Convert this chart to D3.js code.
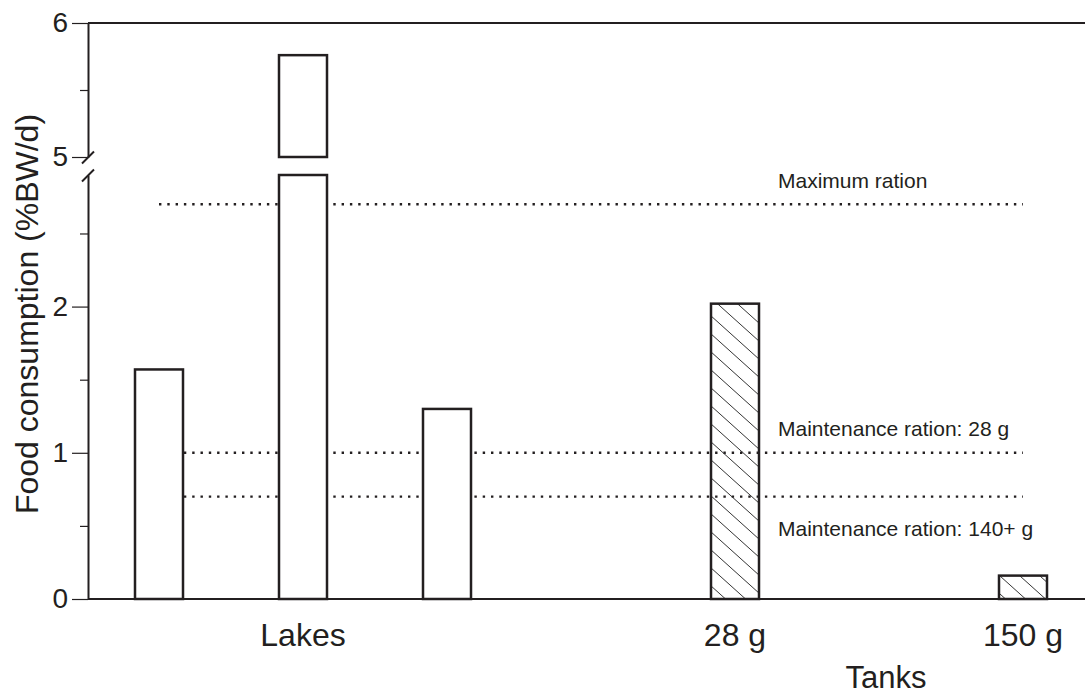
<!DOCTYPE html>
<html>
<head>
<meta charset="utf-8">
<script src="https://cdn.jsdelivr.net/npm/d3@7"></script>
<style>
  body { margin: 0; background: #fff; }
  svg { display: block; }
  text { font-family: "Liberation Sans", Arial, Helvetica, sans-serif; fill: #231f20; }
</style>
</head>
<body>
<div id="chart"></div>
<script>
// slots along the x axis (gaps keep the spacing of the original figure)
const slots = ["lake1", "lake2", "lake3", "gapA", "tank28", "gapB", "tank150"];

// bars
const barKeys = ["lake1", "lake2", "lake3", "tank28", "tank150"];
const barValues = [1.57, 5.76, 1.30, 2.02, 0.16];
const barHatched = [false, false, false, true, true];

// group labels under the axis
const groupLabels = ["Lakes", "28 g", "150 g"];
const groupLabelAt = ["lake2", "tank28", "tank150"];

// reference rations (dotted lines)
const refValues = [2.7, 1.0, 0.7];
const refLabels = ["Maximum ration", "Maintenance ration: 28 g", "Maintenance ration: 140+ g"];

// broken y axis
const lowDomain = [0, 2.9];
const highDomain = [5, 6];
const lowMajor = [0, 1, 2];
const lowMinor = [0.5, 1.5, 2.5];
const highMajor = [5, 6];
const highMinor = [5.5];

const width = 1085, height = 696;
const ink = "#231f20";

const svg = d3.select("#chart").append("svg")
    .attr("width", width)
    .attr("height", height);

const x = d3.scaleBand()
    .domain(slots)
    .range([87, 1095])
    .paddingInner(2 / 3)
    .paddingOuter(1 / 3);

const yLow = d3.scaleLinear().domain(lowDomain).range([599, 175]);
const yHigh = d3.scaleLinear().domain(highDomain).range([157, 23]);

const axisX = 88;

// hatch pattern
const hw = 20, hh = 18;
svg.append("defs").append("pattern")
    .attr("id", "hatch")
    .attr("patternUnits", "userSpaceOnUse")
    .attr("width", hw)
    .attr("height", hh)
  .append("path")
    .attr("d", `M0,0L${hw},${hh}M${-hw},0L${hw},${2 * hh}M0,${-hh}L${2 * hw},${hh}`)
    .attr("stroke", "#333")
    .attr("stroke-width", 1);

// top frame line
svg.append("line")
    .attr("x1", axisX).attr("x2", width)
    .attr("y1", yHigh(6)).attr("y2", yHigh(6))
    .attr("stroke", ink).attr("stroke-width", 2);

// dotted reference lines
const refG = svg.append("g");
const x0 = x("lake1") + x.bandwidth() / 2;
const x1 = x("tank150") + x.bandwidth() / 2;
refG.selectAll("line")
    .data(refValues)
    .join("line")
    .attr("x1", x0).attr("x2", x1)
    .attr("y1", d => yLow(d)).attr("y2", d => yLow(d))
    .attr("stroke", ink)
    .attr("stroke-width", 2.4)
    .attr("stroke-dasharray", "2.4,5.9");

const labelDy = [-16, -17, 39];
refG.selectAll("text")
    .data(refLabels)
    .join("text")
    .attr("x", x("tank28") + x.bandwidth() + 19)
    .attr("y", (d, i) => yLow(refValues[i]) + labelDy[i])
    .attr("font-size", 21)
    .text(d => d);

// bars
const bars = barKeys.map((k, i) => ({key: k, value: barValues[i], hatched: barHatched[i]}));
const barG = svg.append("g");

bars.forEach(b => {
    const fill = b.hatched ? "url(#hatch)" : "#fff";
    const lowTop = Math.min(b.value, lowDomain[1]);
    barG.append("rect")
        .attr("x", x(b.key))
        .attr("width", x.bandwidth())
        .attr("y", yLow(lowTop))
        .attr("height", yLow(0) - yLow(lowTop))
        .attr("fill", fill)
        .attr("stroke", ink)
        .attr("stroke-width", 2.5);
    if (b.value > highDomain[0]) {
        barG.append("rect")
            .attr("x", x(b.key))
            .attr("width", x.bandwidth())
            .attr("y", yHigh(b.value))
            .attr("height", yHigh(highDomain[0]) - yHigh(b.value))
            .attr("fill", fill)
            .attr("stroke", ink)
            .attr("stroke-width", 2.5);
    }
});

// bottom axis line
svg.append("line")
    .attr("x1", axisX).attr("x2", width)
    .attr("y1", yLow(0)).attr("y2", yLow(0))
    .attr("stroke", ink).attr("stroke-width", 2);

// y axes (two segments)
function drawAxis(scale, major, minor) {
    const g = svg.append("g").attr("transform", `translate(${axisX},0)`);
    g.call(d3.axisLeft(scale).tickValues(major).tickFormat(d3.format("d"))
        .tickSize(16).tickSizeOuter(0).tickPadding(4));
    g.select(".domain").attr("stroke", ink).attr("stroke-width", 2);
    g.selectAll(".tick line").attr("stroke", ink).attr("stroke-width", 1.2);
    g.selectAll(".tick text")
        .attr("font-size", 28)
        .attr("fill", ink);

    const m = svg.append("g").attr("transform", `translate(${axisX},0)`);
    m.call(d3.axisLeft(scale).tickValues(minor).tickSize(8).tickFormat(""));
    m.select(".domain").remove();
    m.selectAll(".tick line").attr("stroke", ink).attr("stroke-width", 1.2);
}
drawAxis(yLow, lowMajor, lowMinor);
drawAxis(yHigh, highMajor, highMinor);

// break marks
[yHigh(highDomain[0]) + 0.5, yLow(lowDomain[1]) + 0.5].forEach(yb => {
    svg.append("line")
        .attr("x1", axisX - 6).attr("y1", yb + 6)
        .attr("x2", axisX + 6).attr("y2", yb - 6)
        .attr("stroke", ink).attr("stroke-width", 2);
});

// group labels
svg.append("g").selectAll("text")
    .data(groupLabels)
    .join("text")
    .attr("x", (d, i) => x(groupLabelAt[i]) + x.bandwidth() / 2)
    .attr("y", 646)
    .attr("text-anchor", "middle")
    .attr("font-size", 32)
    .text(d => d);

svg.append("text")
    .attr("x", (x("tank28") + x("tank150")) / 2 + x.bandwidth() / 2 + 7)
    .attr("y", 688)
    .attr("text-anchor", "middle")
    .attr("font-size", 31)
    .text("Tanks");

// y axis title
svg.append("text")
    .attr("transform", `translate(38,${(yHigh(6) + yLow(0)) / 2 + 3}) rotate(-90)`)
    .attr("text-anchor", "middle")
    .attr("font-size", 32)
    .text("Food consumption (%BW/d)");
</script>
</body>
</html>
